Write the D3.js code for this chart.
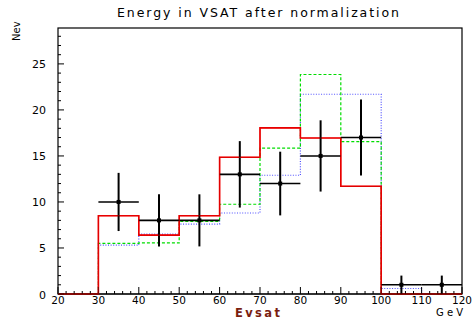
<!DOCTYPE html>
<html><head><meta charset="utf-8">
<script src="https://cdn.jsdelivr.net/npm/d3@7"></script>
<style>body{margin:0;background:#fff}svg{display:block}text{font-family:"DejaVu Sans",sans-serif}</style>
</head><body>
<script>
const binEdges = [20,30,40,50,60,70,80,90,100,110,120];
const redVals   = [0, 8.5, 6.4, 8.5, 14.85, 18.05, 16.95, 11.7, 0, 0];
const greenVals = [0, 5.5, 5.55, 7.9, 9.75, 15.85, 23.85, 16.55, 0, 0];
const blueVals  = [0, 5.3, 6.5, 7.6, 8.8, 12.9, 21.7, 21.7, 0.6, 0];
const dataX   = [35, 45, 55, 65, 75, 85, 95, 105, 115];
const dataY   = [10, 8, 8, 13, 12, 15, 17, 1, 1];
const dataErr = [3.16, 2.83, 2.83, 3.61, 3.46, 3.87, 4.12, 1, 1];
const xTicks = [20,30,40,50,60,70,80,90,100,110,120];
const yTicks = [0,5,10,15,20,25];

const W=474,H=322;
const svg=d3.select("body").append("svg").attr("width",W).attr("height",H);
const x=d3.scaleLinear().domain([20,120]).range([58,462]);
const y=d3.scaleLinear().domain([0,28.9]).range([294,28]);

function stepPath(vals){
  const p=d3.path();
  p.moveTo(x(binEdges[0]),y(0));
  vals.forEach((v,i)=>{p.lineTo(x(binEdges[i]),y(v));p.lineTo(x(binEdges[i+1]),y(v));});
  p.lineTo(x(binEdges[binEdges.length-1]),y(0));
  return p.toString();
}
// frame
svg.append("rect").attr("x",x(20)).attr("y",y(28.9)).attr("width",x(120)-x(20)).attr("height",y(0)-y(28.9))
  .attr("fill","none").attr("stroke","#000").attr("stroke-width",1.2);

svg.append("path").attr("d",stepPath(blueVals)).attr("fill","none").attr("stroke","#3333ff").attr("stroke-width",1.2).attr("stroke-dasharray","1,1.6").attr("opacity",0.85);
svg.append("path").attr("d",stepPath(greenVals)).attr("fill","none").attr("stroke","#00dd00").attr("stroke-width",1.2).attr("stroke-dasharray","3,2");
svg.append("path").attr("d",stepPath(redVals)).attr("fill","none").attr("stroke","#ff0000").attr("stroke-width",1.6);

// data points
const g=svg.append("g");
dataX.forEach((dx,i)=>{
  g.append("line").attr("x1",x(dx-5)).attr("x2",x(dx+5)).attr("y1",y(dataY[i])).attr("y2",y(dataY[i])).attr("stroke","#000").attr("stroke-width",1.6);
  g.append("line").attr("x1",x(dx)).attr("x2",x(dx)).attr("y1",y(dataY[i]-dataErr[i])).attr("y2",y(dataY[i]+dataErr[i])).attr("stroke","#000").attr("stroke-width",2);
  g.append("rect").attr("x",x(dx)-2).attr("y",y(dataY[i])-2).attr("width",4).attr("height",4).attr("fill","#000");
});

// axes
const ya=svg.append("g");
d3.range(0,29,1).forEach(v=>{
  ya.append("line").attr("x1",x(20)).attr("x2",x(20)+(v%5===0?6:3)).attr("y1",y(v)).attr("y2",y(v)).attr("stroke","#000");
});
yTicks.forEach(v=>{
  ya.append("text").attr("x",46).attr("y",y(v)+4.5).attr("text-anchor","end").attr("font-size",11).text(v);
});
const xa=svg.append("g");
d3.range(20,121,2).forEach(v=>{
  xa.append("line").attr("x1",x(v)).attr("x2",x(v)).attr("y1",y(0)).attr("y2",y(0)-(v%10===0?7:3)).attr("stroke","#000");
});
xTicks.forEach(v=>{
  xa.append("text").attr("x",x(v)).attr("y",303.5).attr("text-anchor","middle").attr("font-size",10.5).text(v);
});
svg.append("line").attr("x1",x(20)).attr("x2",x(120)).attr("y1",y(0)).attr("y2",y(0)).attr("stroke","#000").attr("stroke-width",1.2);
svg.append("path").attr("d",stepPath(redVals)).attr("fill","none").attr("stroke","#cc0000").attr("stroke-width",1.2).attr("opacity",0.6);

svg.append("text").attr("x",258).attr("y",17).attr("text-anchor","middle").attr("font-size",12.5).attr("textLength",282).attr("lengthAdjust","spacing").text("Energy in VSAT after normalization");
svg.append("text").attr("transform","translate(20,41) rotate(-90)").attr("text-anchor","start").attr("font-size",10).text("Nev");
svg.append("text").attr("x",257.5).attr("y",317).attr("text-anchor","middle").attr("font-size",11.5).attr("font-weight","bold").attr("fill","#7a1e10").attr("textLength",45).attr("lengthAdjust","spacing").text("Evsat");
svg.append("text").attr("x",463).attr("y",316).attr("text-anchor","end").attr("font-size",10).attr("textLength",27).text("GeV");
</script>
</body></html>
